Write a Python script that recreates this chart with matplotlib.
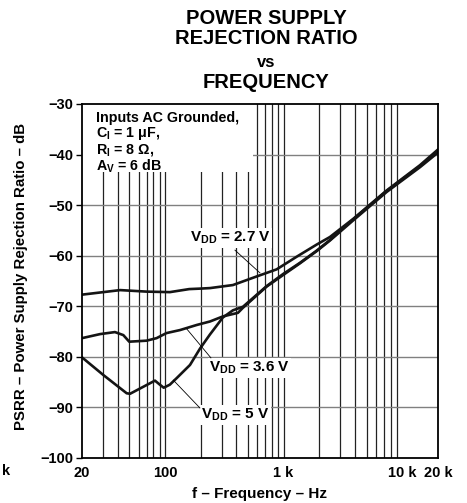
import matplotlib
matplotlib.use("Agg")
import matplotlib.pyplot as plt
from matplotlib.patches import Rectangle

plt.rcParams['font.family'] = ['Liberation Sans', 'DejaVu Sans']
plt.rcParams['font.weight'] = 'bold'
plt.rcParams['mathtext.fontset'] = 'custom'
plt.rcParams['mathtext.rm'] = 'Liberation Sans:bold'
plt.rcParams['mathtext.it'] = 'Liberation Sans:bold'
plt.rcParams['mathtext.bf'] = 'Liberation Sans:bold'

# ---- data ----
f27 = [20, 42, 70, 110, 160, 200, 240, 374, 593, 873, 1288, 1898, 2456, 3864, 7380, 14090, 20000]
p27 = [-67.7, -66.8, -67.1, -67.2, -66.6, -66.5, -66.4, -65.8, -64.1, -62.7, -60.2, -57.8, -56.3, -52.7, -47.1, -42.1, -39.0]

f36 = [20, 28.4, 37.9, 44.6, 50, 70, 85, 103, 134, 185, 240, 308, 412, 454, 720, 993, 1374, 1898, 2456, 3864, 7380, 14090, 20000]
p36 = [-76.3, -75.5, -75.1, -75.7, -77.0, -76.8, -76.3, -75.3, -74.7, -73.7, -73.0, -72.0, -71.3, -70.3, -66.1, -63.8, -61.5, -59.1, -57.0, -53.0, -47.4, -42.5, -39.6]

f5 = [20, 30.3, 47.6, 50.8, 82.4, 90.6, 97.6, 110, 125.6, 162.6, 197, 239, 308, 374, 454, 720, 993, 1374, 1898, 2456, 3864, 7380, 14090, 20000]
p5 = [-80.1, -83.6, -87.2, -87.3, -84.7, -85.5, -86.1, -85.5, -84.2, -81.6, -78.4, -75.6, -72.2, -70.8, -70.1, -66.0, -63.6, -61.4, -59.0, -56.9, -52.8, -47.2, -42.3, -39.2]

xticks = [20, 100, 1000, 10000, 20000]
xticklabels = ['20', '100', '1 k', '10 k', '20 k']
yticks = [-30, -40, -50, -60, -70, -80, -90, -100]
yticklabels = ['\u221230', '\u221240', '\u221250', '\u221260', '\u221270', '\u221280', '\u221290', '\u2212100']

title_lines = ['POWER SUPPLY', 'REJECTION RATIO', 'vs', 'FREQUENCY']
note_lines = ['Inputs AC Grounded,',
              '$\\mathrm{C_I}$ = 1 \u03bcF,',
              '$\\mathrm{R_I}$ = 8 \u03a9,',
              '$\\mathrm{A_V}$ = 6 dB']

W, H = 467, 503
fig = plt.figure(figsize=(W / 100, H / 100), dpi=100)
L, R, T, B = 82, 438, 104, 458
ax = fig.add_axes([L / W, 1 - B / H, (R - L) / W, (B - T) / H])
ax.set_xscale('log')
ax.set_xlim(20, 20000)
ax.set_ylim(-100, -30)

# grid
grid_f = []
for dec in [10, 100, 1000]:
    for m in range(1, 10):
        v = m * dec
        if 20 < v <= 10000:
            grid_f.append(v)
for v in grid_f:
    ax.axvline(v, color='#222222', lw=0.9, zorder=1)
for v in yticks[1:-1]:
    ax.axhline(v, color='#808080', lw=1.0, zorder=1)

# white box behind the note
ax.add_patch(Rectangle((0, 1 - (172 - T) / (B - T)), (253 - L) / (R - L), (172 - T) / (B - T),
                       transform=ax.transAxes, facecolor='white', edgecolor='none', zorder=2))

lw = 1.9
ax.plot(f27, p27, color='#141414', lw=lw, zorder=4)
ax.plot(f36, p36, color='#141414', lw=lw, zorder=4)
ax.plot(f5, p5, color='#141414', lw=lw, zorder=4)

ax.set_xticks(xticks)
ax.set_xticklabels(xticklabels)
ax.minorticks_off()
ax.set_yticks(yticks)
ax.set_yticklabels(yticklabels)
ax.tick_params(axis='x', length=0, pad=6, labelsize=10.5)
ax.tick_params(axis='y', length=4, width=1, pad=2, labelsize=10.5, direction='out')
for sp in ax.spines.values():
    sp.set_linewidth(1.3)
    sp.set_zorder(6)

# note text (one multi-line text)
fig.text(96 / W, 1 - 111 / H, '\n'.join(note_lines), fontsize=10.3, fontweight='bold',
         ha='left', va='top', linespacing=1.0)

# curve labels
bbox = dict(facecolor='white', edgecolor='none', pad=1.0)
lab_fs = 11
ax.text(162.6, -56.5, '$\\mathrm{V_{DD}}$ = 2.7 V', fontsize=lab_fs, fontweight='bold',
        ha='left', va='center', bbox=bbox, zorder=5)
ax.text(235, -82.2, '$\\mathrm{V_{DD}}$ = 3.6 V', fontsize=lab_fs, fontweight='bold',
        ha='left', va='center', bbox=bbox, zorder=5)
ax.text(201, -91.5, '$\\mathrm{V_{DD}}$ = 5 V', fontsize=lab_fs, fontweight='bold',
        ha='left', va='center', bbox=bbox, zorder=5)
ax.plot([389, 632], [-58.9, -63.4], color='black', lw=0.6, zorder=5)
ax.plot([153, 244], [-74.5, -80.2], color='black', lw=0.6, zorder=5)
ax.plot([117.6, 197], [-84.6, -90.1], color='black', lw=0.6, zorder=5)

# title
ty = [18.5, 38.5, 63, 82.5]
for s, y in zip(title_lines, ty):
    fs = 12 if s == 'vs' else 14.5
    fig.text(266 / W, 1 - y / H, s, fontsize=fs, fontweight='bold', ha='center', va='center')

# axis labels
fig.text(21 / W, 1 - 276 / H, 'PSRR \u2013 Power Supply Rejection Ratio \u2013 dB', rotation=90,
         fontsize=10.8, fontweight='bold', ha='center', va='center')
fig.text(260 / W, 2 / H, 'f \u2013 Frequency \u2013 Hz', fontsize=11, fontweight='bold',
         ha='center', va='bottom')
fig.text(2 / W, 1 - 471 / H, 'k', fontsize=10.5, fontweight='bold', ha='left', va='center')

fig.savefig('out.png', dpi=100)
